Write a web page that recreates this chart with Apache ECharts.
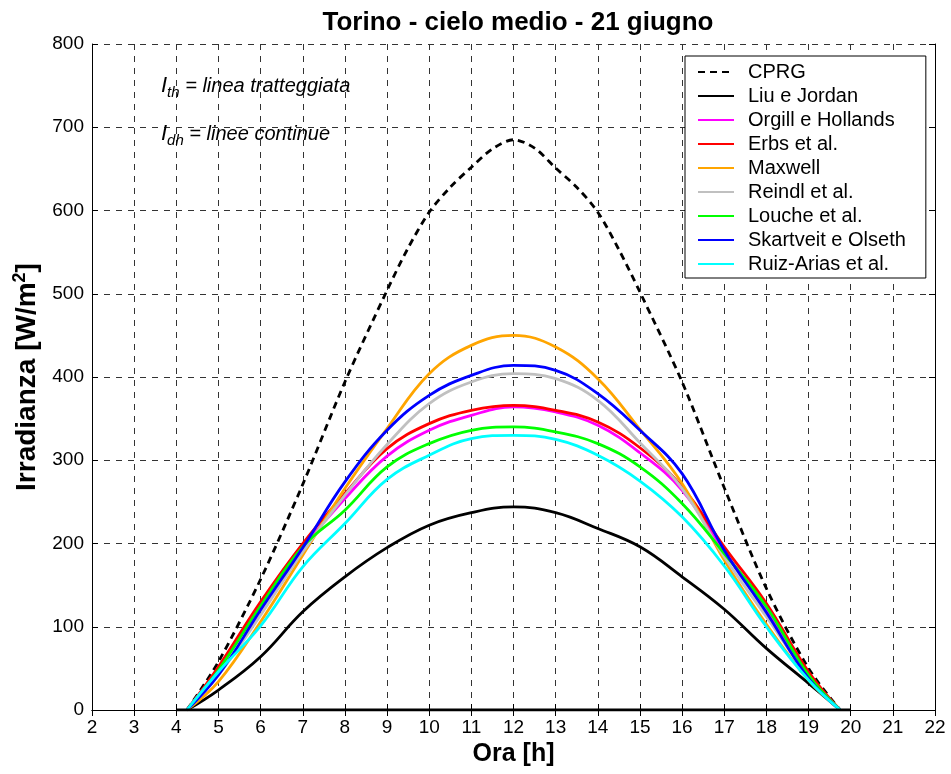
<!DOCTYPE html>
<html><head><meta charset="utf-8">
<script src="https://cdn.jsdelivr.net/npm/echarts@6/dist/echarts.min.js"></script>
<style>html,body{margin:0;padding:0;background:#fff}#c{width:951px;height:774px}</style>
</head><body><div id="c"></div>
<script>
// ---- data ----
const hours = [4.25, 5, 6, 7, 8, 9, 10, 11, 12, 13, 14, 15, 16, 17, 18, 19, 19.75];
const cprgHours = [4.25, 5, 6, 7, 8, 9, 9.5, 10, 10.5, 11, 11.5, 12, 12.5, 13, 13.5, 14, 14.5, 15, 16, 17, 18, 19, 19.75];
const cprg      = [0, 58, 157, 271, 394, 504, 555, 598, 628, 652, 674, 685, 675, 651, 628, 598, 553, 502, 394, 267, 146, 50, 0];
const liuJordan = [0, 24, 64, 118, 160, 195, 222, 237, 244, 237, 218, 196, 160, 121, 74, 32, 0];
const orgill    = [0, 50, 127, 195, 254, 305, 336, 354, 364, 358, 342, 309, 264, 190, 122, 42, 0];
const erbs      = [0, 52, 130, 200, 260, 314, 344, 360, 366, 360, 346, 315, 268, 196, 128, 46, 0];
const maxwell   = [0, 34, 106, 186, 266, 338, 404, 438, 450, 436, 398, 337, 272, 180, 103, 36, 0];
const reindl    = [0, 42, 114, 190, 258, 319, 368, 394, 404, 398, 372, 321, 266, 184, 112, 40, 0];
const louche    = [0, 48, 125, 196, 240, 292, 320, 336, 340, 334, 320, 292, 248, 188, 124, 42, 0];
const skartveit = [0, 42, 120, 195, 274, 336, 378, 402, 414, 408, 380, 336, 284, 192, 117, 38, 0];
const ruizArias = [0, 46, 101, 172, 224, 277, 306, 326, 330, 325, 306, 275, 232, 173, 100, 36, 0];
const zeroHours = [4, 20];
const zeroValues = [0, 0];
const xTicks = [2, 22, 1];   // min, max, step
const yTicks = [0, 800, 100];

const seriesNames = ['CPRG', 'Liu e Jordan', 'Orgill e Hollands', 'Erbs et al.', 'Maxwell',
  'Reindl et al.', 'Louche et al.', 'Skartveit e Olseth', 'Ruiz-Arias et al.'];
const seriesValues = [cprg, liuJordan, orgill, erbs, maxwell, reindl, louche, skartveit, ruizArias];
const seriesHours = [cprgHours, hours, hours, hours, hours, hours, hours, hours, hours];

// ---- styles ----
const colors = ['#000000', '#000000', '#ff00ff', '#ff0000', '#ffa500', '#c0c0c0', '#00ff00', '#0000ff', '#00ffff'];
const FONT = "'Liberation Sans', Arial, Helvetica, sans-serif";

const pairs = (xs, ys) => xs.map((x, i) => [x, ys[i]]);

const series = [{
  name: 'zero', type: 'line', data: pairs(zeroHours, zeroValues), symbol: 'none',
  lineStyle: { color: '#000', width: 3 }, silent: true, z: 20
}];
seriesNames.forEach((n, i) => {
  series.push({
    name: n, type: 'line', data: pairs(seriesHours[i], seriesValues[i]),
    symbol: 'none', showSymbol: false, smooth: i === 0 ? 0.3 : 0.4,
    lineStyle: { color: colors[i], width: 2.8, type: i === 0 ? [7, 5] : 'solid' },
    itemStyle: { color: colors[i] },
    z: 2 + i
  });
});

const gridLine = { show: true, lineStyle: { color: '#333', type: [6, 6], width: 1 } };
const subRich = (t) => ({
  text: '{i|I}{s|' + t[0] + '}{t| = ' + t[1] + '}',
  rich: {
    i: { fontFamily: FONT, fontSize: 22, fontStyle: 'italic', fill: '#000' },
    s: { fontFamily: FONT, fontSize: 15, fontStyle: 'italic', fill: '#000', padding: [14, 0, 0, 0] },
    t: { fontFamily: FONT, fontSize: 20, fontStyle: 'italic', fill: '#000' }
  }
});
const annotations = [['th', 'linea tratteggiata'], ['dh', 'linee continue']];

const chart = echarts.init(document.getElementById('c'), null, { renderer: 'canvas' });
chart.setOption({
  animation: false,
  backgroundColor: '#fff',
  title: {
    text: 'Torino - cielo medio - 21 giugno', left: 513, top: 5, textAlign: 'center',
    textStyle: { fontFamily: FONT, fontSize: 26, fontWeight: 'bold', color: '#000' }
  },
  grid: { left: 92, right: 16, top: 44, bottom: 64 },
  legend: {
    data: seriesNames, orient: 'vertical', left: 685, top: 56,
    itemWidth: 36, itemHeight: 14, itemGap: 4,
    padding: [6, 20, 4, 12],
    itemStyle: { opacity: 0 },
    backgroundColor: '#fff', borderColor: '#000', borderWidth: 1, borderRadius: 0,
    textStyle: { fontFamily: FONT, fontSize: 20, color: '#000', lineHeight: 20, padding: [0, 0, 0, 9] },
    selectedMode: false
  },
  xAxis: [{
    type: 'value', min: xTicks[0], max: xTicks[1], interval: xTicks[2],
    name: 'Ora [h]', nameLocation: 'middle', nameGap: 28,
    nameTextStyle: { fontFamily: FONT, fontSize: 25, fontWeight: 'bold', color: '#000' },
    axisLine: { show: true, onZero: false, lineStyle: { color: '#000', width: 1 } },
    axisTick: { show: true, inside: true, length: 6, lineStyle: { color: '#000' } },
    axisLabel: { fontFamily: FONT, fontSize: 19, color: '#000', margin: 8 },
    splitLine: gridLine
  }, {
    type: 'value', position: 'top', min: xTicks[0], max: xTicks[1], interval: xTicks[2],
    axisLine: { show: true, lineStyle: { color: '#000', width: 1 } },
    axisTick: { show: true, inside: true, length: 6, lineStyle: { color: '#000' } },
    axisLabel: { show: false }, splitLine: { show: false }
  }],
  yAxis: [{
    type: 'value', min: yTicks[0], max: yTicks[1], interval: yTicks[2],
    name: '{a|Irradianza [W/m}{s|2}{a|]}', nameLocation: 'middle', nameGap: 41, nameRotate: 90,
    nameTextStyle: {
      rich: {
        a: { fontFamily: FONT, fontSize: 28, fontWeight: 'bold', color: '#000' },
        s: { fontFamily: FONT, fontSize: 18, fontWeight: 'bold', color: '#000', padding: [0, 0, 14, 0] }
      }
    },
    axisLine: { show: true, lineStyle: { color: '#000', width: 1 } },
    axisTick: { show: true, inside: true, length: 6, lineStyle: { color: '#000' } },
    axisLabel: { fontFamily: FONT, fontSize: 19, color: '#000', margin: 8 },
    splitLine: gridLine
  }, {
    type: 'value', position: 'right', min: yTicks[0], max: yTicks[1], interval: yTicks[2],
    axisLine: { show: true, lineStyle: { color: '#000', width: 1 } },
    axisTick: { show: true, inside: true, length: 6, lineStyle: { color: '#000' } },
    axisLabel: { show: false }, splitLine: { show: false }
  }],
  graphic: [
    { type: 'text', left: 161, top: 75, z: 100, style: subRich(annotations[0]) },
    { type: 'text', left: 161, top: 123, z: 100, style: subRich(annotations[1]) }
  ],
  series: series
});
</script>
</body></html>
